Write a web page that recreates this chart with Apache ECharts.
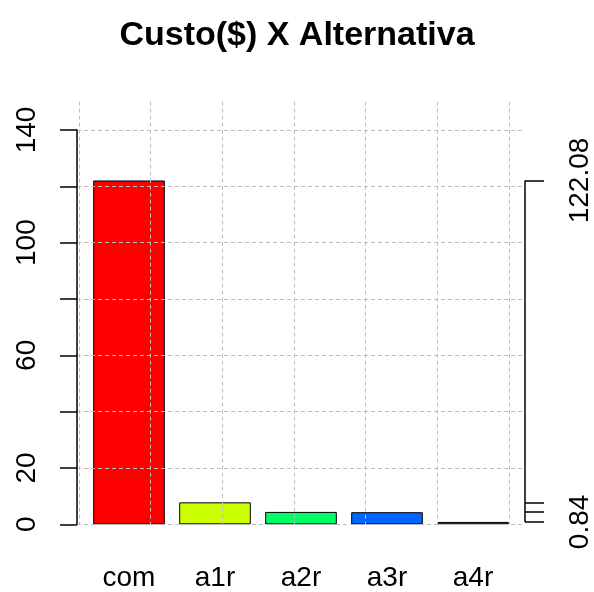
<!DOCTYPE html>
<html>
<head>
<meta charset="utf-8">
<script src="https://cdn.jsdelivr.net/npm/echarts@6/dist/echarts.min.js"></script>
<style>html,body{margin:0;padding:0;background:#fff}#c{width:594px;height:592px}</style>
</head>
<body>
<div id="c"></div>
<script>
const categories = ['com', 'a1r', 'a2r', 'a3r', 'a4r'];
const values = [122.08, 7.8, 4.4, 4.3, 0.84];
const barColors = ['#FF0000', '#CCFF00', '#00FF66', '#0066FF', '#CC00FF'];
const leftTickLabels = [0, 20, 60, 100, 140];
const rightTickLabels = [122.08, 0.84];

const FONT = 'Liberation Sans, Arial, sans-serif';
const gridColor = '#bdbdbd';
const dash = [4, 3];
const TOP_PLOT = 101.7, TOP_AX = 130, BOTTOM = 67.7;

const chart = echarts.init(document.getElementById('c'), null, {renderer: 'canvas'});
const option = {
  animation: false,
  backgroundColor: '#fff',
  title: {
    text: 'Custo($) X Alternativa',
    left: 'center', top: 14,
    textStyle: {fontFamily: FONT, fontSize: 34, fontWeight: 'bold', color: '#000'}
  },
  grid: [
    {left: 79, width: 430, top: TOP_PLOT, bottom: BOTTOM, outerBoundsMode: 'none', containLabel: false},
    {left: 77, width: 445, top: TOP_AX, bottom: BOTTOM, outerBoundsMode: 'none', containLabel: false},
    {left: 86, width: 430, top: TOP_AX, bottom: BOTTOM, outerBoundsMode: 'none', containLabel: false}
  ],
  xAxis: [
    {gridIndex: 0, type: 'value', min: 0, max: 6, interval: 1, z: 10,
     axisLine: {show: false}, axisTick: {show: false}, axisLabel: {show: false},
     splitLine: {show: true, lineStyle: {color: gridColor, type: dash, width: 1}}},
    {gridIndex: 1, type: 'value', show: false},
    {gridIndex: 2, type: 'category', data: categories,
     axisLine: {show: false}, axisTick: {show: false}, splitLine: {show: false},
     axisLabel: {margin: 40, fontFamily: FONT, fontSize: 28, color: '#000'}}
  ],
  yAxis: [
    {gridIndex: 0, type: 'value', show: false, min: 0, max: 150},
    {gridIndex: 1, type: 'value', min: 0, max: 140, interval: 20, z: 10,
     axisLine: {show: true, lineStyle: {color: '#000', width: 1.5}},
     axisTick: {show: true, length: 17, lineStyle: {color: '#000', width: 1.5}},
     axisLabel: {show: true, rotate: 90, margin: 36, fontFamily: FONT, fontSize: 28, color: '#000',
       customValues: leftTickLabels},
     splitLine: {show: true, lineStyle: {color: gridColor, type: dash, width: 1}}},
    {gridIndex: 2, type: 'value', min: 0, max: 140, show: false},
    {gridIndex: 2, type: 'value', min: 0, max: 140, position: 'right', offset: 9,
     axisLine: {show: false},
     axisTick: {show: true, length: 19, customValues: values, lineStyle: {color: '#000', width: 1.5}},
     axisLabel: {show: true, rotate: 90, margin: 41, fontFamily: FONT, fontSize: 28, color: '#000',
       customValues: rightTickLabels, formatter: v => String(v)},
     splitLine: {show: false}}
  ],
  series: [{
    type: 'bar', xAxisIndex: 2, yAxisIndex: 2,
    barWidth: '83.3%',
    data: values.map((v, i) => ({value: v, itemStyle: {color: barColors[i]}})),
    itemStyle: {borderColor: '#000', borderWidth: 1},
    z: 2
  }]
};
chart.setOption(option);

// right axis line spanning min..max of the values
const yMax = chart.convertToPixel({yAxisIndex: 3}, Math.max(...values));
const yMin = chart.convertToPixel({yAxisIndex: 3}, Math.min(...values));
const gridRect = chart.getModel().getComponent('grid', 2).coordinateSystem.getRect();
const xr = gridRect.x + gridRect.width + 9;
chart.setOption({
  graphic: [{
    type: 'line', z: 20,
    shape: {x1: xr, y1: yMax, x2: xr, y2: yMin},
    style: {stroke: '#000', lineWidth: 1.5}
  }]
});
</script>
</body>
</html>
